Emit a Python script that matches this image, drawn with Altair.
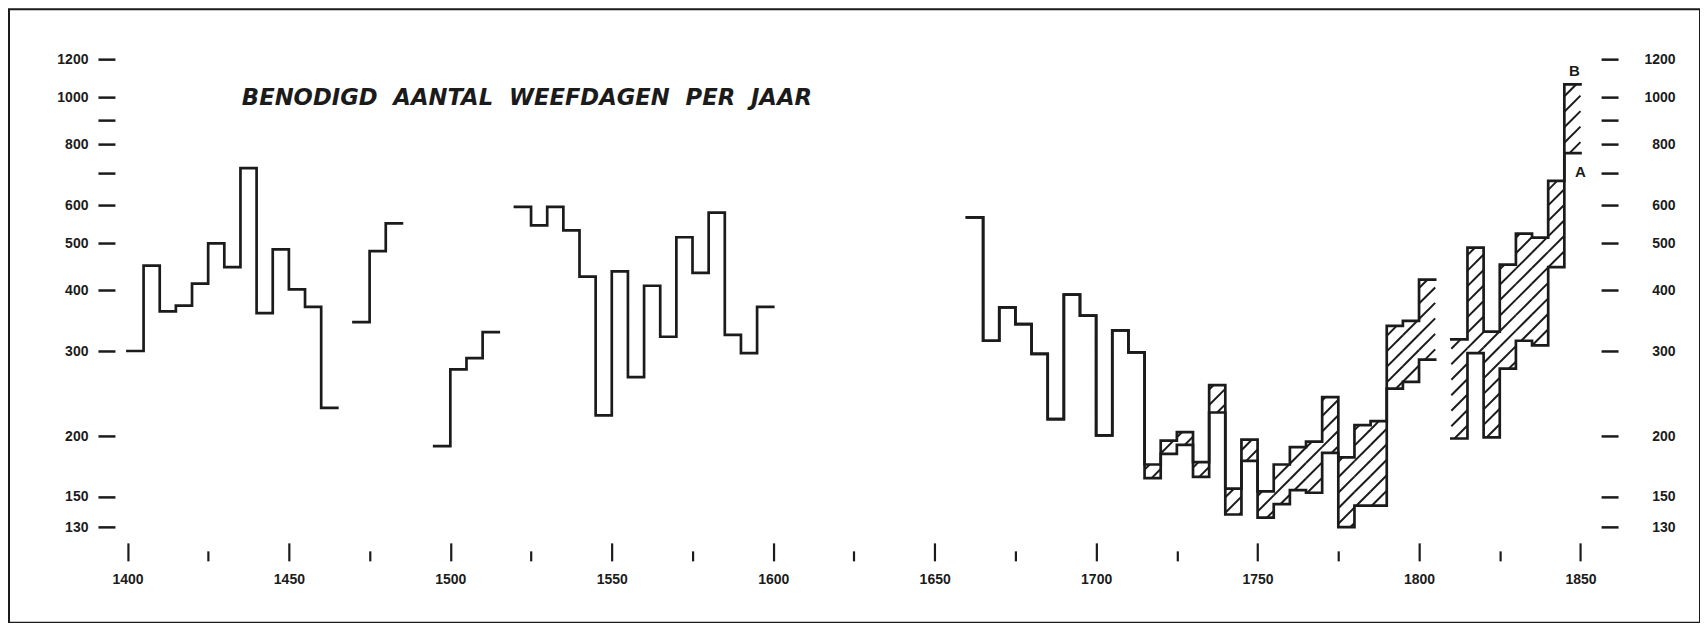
import math
import pandas as pd
import altair as alt

# ---------------- data ----------------
STEP = 5  # every value covers a 5-year period
seg1400 = [300, 450, 362, 372, 413, 500, 447, 715, 359, 486, 402, 370, 229]
seg1470 = [344, 482, 550]
seg1495 = [191, 275, 290, 328]
seg1520 = [595, 545, 595, 532, 427, 221, 438, 265, 409, 321, 515, 435, 579, 324, 297, 370]
seg1660 = [566, 315, 369, 341, 296, 217, 392, 355, 201, 331, 298]
# from 1715 on two estimates: B (upper) and A (lower)
upper_1715 = [175, 196, 204, 177, 255, 156, 197, 154, 175, 190, 195, 241, 181, 211, 215, 338, 346, 421]
lower_1715 = [164, 184, 192, 165, 224, 138, 178, 136, 145, 155, 153, 185, 130, 144, 144, 251, 259, 288]
upper_1810 = [317, 490, 329, 452, 524, 514, 673, 1065]
lower_1810 = [198, 297, 199, 276, 315, 308, 447, 768]

x_ticks = list(range(1400, 1851, 25))
x_labels = list(range(1400, 1851, 50))
y_ticks = [130, 150, 200, 300, 400, 500, 600, 700, 800, 900, 1000, 1200]
title_text = "BENODIGD\u00a0\u00a0AANTAL\u00a0\u00a0WEEFDAGEN\u00a0\u00a0PER\u00a0\u00a0JAAR"

# ---------------- layout ----------------
W, H = 1692, 614
X0 = 1363.32
X1 = X0 + W / 3.2309
Y_MIN, Y_MAX = 82.49, 1521.5
PX_YEAR = W / (X1 - X0)
PX_DEC = H / math.log10(Y_MAX / Y_MIN)
INK = "#1b1b1b"
FONT = "DejaVu Sans"
AXFONT = "Liberation Sans"


def step_rows(name, start, values):
    rows = [{"seg": name, "year": start + i * STEP, "value": v} for i, v in enumerate(values)]
    rows.append({"seg": name, "year": start + len(values) * STEP, "value": values[-1]})
    return rows


line_rows = []
line_rows += step_rows("s1400", 1400, seg1400)
line_rows += step_rows("s1470", 1470, seg1470)
line_rows += step_rows("s1495", 1495, seg1495)
line_rows += step_rows("s1520", 1520, seg1520)
line_rows += step_rows("B1660", 1660, seg1660 + upper_1715)
line_rows += step_rows("A1660", 1660, seg1660 + lower_1715)
line_rows += step_rows("B1810", 1810, upper_1810)
line_rows += step_rows("A1810", 1810, lower_1810)
lines_df = pd.DataFrame(line_rows)

# hatch between the A and B curves: 45 degree lines in screen space
HATCH_GAP = 15.5
HATCH_PHASE = 8.6
bins = [(1715 + i * STEP, lo, hi) for i, (lo, hi) in enumerate(zip(lower_1715, upper_1715))]
bins += [(1810 + i * STEP, lo, hi) for i, (lo, hi) in enumerate(zip(lower_1810, upper_1810))]
hatch_rows = []
for start, lo, hi in bins:
    px0 = (start - X0) * PX_YEAR
    px1 = (start + STEP - X0) * PX_YEAR
    pa = math.log10(lo) * PX_DEC
    pb = math.log10(hi) * PX_DEC
    cmin, cmax = pa - px1, pb - px0
    k0 = math.ceil((cmin - HATCH_PHASE) / HATCH_GAP)
    k1 = math.floor((cmax - HATCH_PHASE) / HATCH_GAP)
    for k in range(k0, k1 + 1):
        c = HATCH_PHASE + k * HATCH_GAP
        s = max(px0, pa - c)
        e = min(px1, pb - c)
        if e - s > 0.5:
            hatch_rows.append({
                "x": X0 + s / PX_YEAR, "y": 10 ** ((s + c) / PX_DEC),
                "x2": X0 + e / PX_YEAR, "y2": 10 ** ((e + c) / PX_DEC),
            })
hatch_df = pd.DataFrame(hatch_rows)

lab_b = pd.DataFrame({"label": ["B"], "year": [1810 + (len(upper_1810) - 0.5) * STEP], "value": [upper_1810[-1]]})
lab_a = pd.DataFrame({"label": ["A"], "year": [1810 + len(lower_1810) * STEP], "value": [lower_1810[-1]]})

x_scale = alt.Scale(domain=[X0, X1], nice=False, zero=False)
y_scale = alt.Scale(type="log", domain=[Y_MIN, Y_MAX], nice=False)

label_expr = "datum.value == 700 || datum.value == 900 ? '' : format(datum.value, 'd')"
common_axis = dict(domain=False, grid=False, title=None, tickColor=INK, tickWidth=2.5,
                   labelColor=INK, labelFont=AXFONT, labelFontSize=14, labelFontWeight="bold")

left_axis = alt.Axis(orient="left", offset=-106, values=y_ticks, tickSize=17, labelPadding=10,
                     labelExpr=label_expr, **common_axis)
right_axis = alt.Axis(orient="right", offset=-99, values=y_ticks, tickSize=17, labelPadding=57,
                      labelAlign="right", labelExpr=label_expr, **common_axis)
tick_axis = alt.Axis(orient="top", offset=-552, values=x_ticks, labels=False, domain=False, grid=False,
                     title=None, tickColor=INK, tickWidth=2.2,
                     tickSize={"condition": {"test": "datum.value % 50 === 0", "value": 18}, "value": 10})
label_axis = alt.Axis(orient="bottom", offset=-43, values=x_labels, ticks=False, tickSize=0, labelPadding=0,
                      labelBaseline="middle", format="d", domain=False, grid=False, title=None,
                      labelColor=INK, labelFont=AXFONT, labelFontSize=14, labelFontWeight="bold")

hatch = alt.Chart(hatch_df).mark_rule(color=INK, strokeWidth=2.0, strokeCap="butt").encode(
    x=alt.X("x:Q", scale=x_scale, axis=tick_axis),
    x2="x2:Q",
    y=alt.Y("y:Q", scale=y_scale, axis=left_axis),
    y2="y2:Q",
)

steps = alt.Chart(lines_df).mark_line(interpolate="step-after", color=INK, strokeWidth=2.7,
                                      strokeJoin="miter", strokeCap="square").encode(
    x=alt.X("year:Q", scale=x_scale, axis=label_axis),
    y=alt.Y("value:Q", scale=y_scale, axis=right_axis),
    detail="seg:N",
)

text_b = alt.Chart(lab_b).mark_text(font=AXFONT, fontSize=15, fontWeight="bold", color=INK,
                                    baseline="middle", align="center", dy=-13, dx=2).encode(
    x=alt.X("year:Q", scale=x_scale, axis=None),
    y=alt.Y("value:Q", scale=y_scale, axis=None),
    text="label:N",
)
text_a = alt.Chart(lab_a).mark_text(font=AXFONT, fontSize=15, fontWeight="bold", color=INK,
                                    baseline="middle", align="center", dy=19, dx=0).encode(
    x=alt.X("year:Q", scale=x_scale, axis=None),
    y=alt.Y("value:Q", scale=y_scale, axis=None),
    text="label:N",
)

chart = alt.layer(hatch, steps, text_b, text_a).resolve_axis(
    x="independent", y="independent"
).properties(
    width=W, height=H,
    padding={"left": 1, "top": 1, "right": 0, "bottom": 0},
    autosize=alt.AutoSizeParams(type="none"),
    background="white",
    title=alt.TitleParams(text=title_text, orient="top", anchor="start", frame="group",
                          offset=-112, dx=233, baseline="middle", font=FONT, fontSize=22.7,
                          fontStyle="italic", fontWeight="bold", color=INK),
).configure_view(stroke=INK, strokeWidth=2)

chart.save("out.html", embed_options={"renderer": "svg", "actions": False})
